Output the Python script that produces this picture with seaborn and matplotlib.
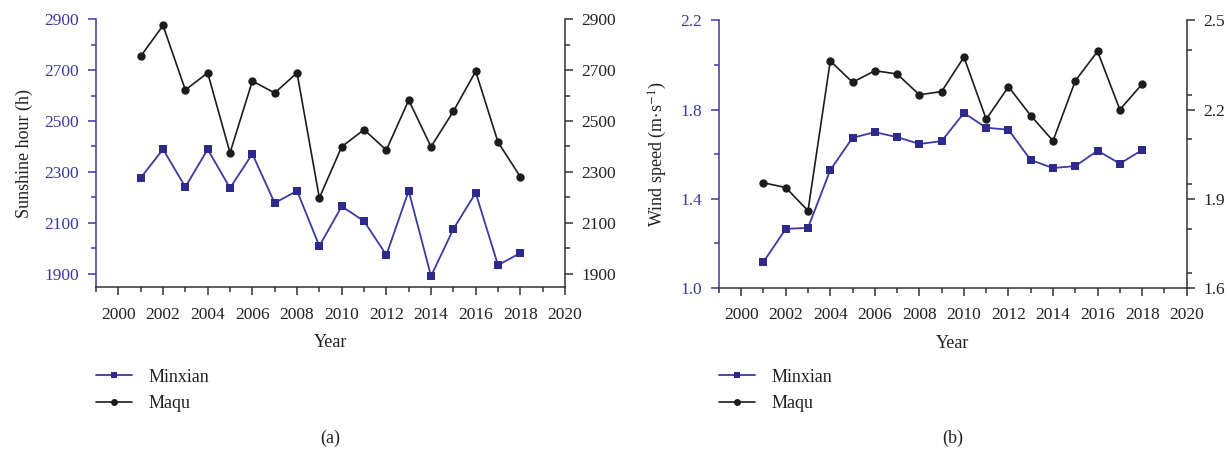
import matplotlib
matplotlib.use("Agg")
import matplotlib.pyplot as plt
from matplotlib.ticker import MultipleLocator, FixedLocator
from matplotlib.lines import Line2D
import numpy as np
import pandas as pd
import seaborn as sns

# ---- data ----
years = list(range(2001, 2019))

sunshine_minxian = [2277, 2389, 2241, 2389, 2237, 2371, 2178, 2226, 2009,
                    2165, 2107, 1974, 2226, 1891, 2076, 2218, 1934, 1982]
sunshine_maqu = [2754, 2875, 2622, 2689, 2375, 2657, 2610, 2689, 2198,
                 2399, 2466, 2386, 2582, 2399, 2538, 2695, 2417, 2281]

wind_minxian = [1.117, 1.265, 1.270, 1.529, 1.674, 1.699, 1.677, 1.646, 1.659,
                1.785, 1.719, 1.710, 1.574, 1.538, 1.547, 1.616, 1.558, 1.619]
wind_maqu = [1.954, 1.938, 1.860, 2.364, 2.292, 2.331, 2.320, 2.250, 2.261,
             2.377, 2.168, 2.277, 2.180, 2.095, 2.297, 2.396, 2.200, 2.286]

station_names = ["Minxian", "Maqu"]
panel_tags = ["(a)", "(b)"]
year_ticks = list(range(2000, 2021, 2))

# ---- style ----
sns.set_theme(style="ticks")
plt.rcParams["font.family"] = ["Liberation Serif", "DejaVu Serif"]
plt.rcParams["mathtext.fontset"] = "stix"

BLUE = "#3d399e"
BLUE_MK = "#2e2a8c"
BLACK = "#1c1c1c"
GREY = "#333333"

fig = plt.figure(figsize=(12.31, 4.55), dpi=100)

def draw_panel(rect, minx, maq, left_lim, left_major, left_minor,
               right_lim, right_major, right_minor, ylabel, fmt, tag, legend_x):
    ax = fig.add_axes(rect)
    ax2 = ax.twinx()
    df_a = pd.DataFrame({"Year": years, "value": minx})
    df_b = pd.DataFrame({"Year": years, "value": maq})
    sns.lineplot(data=df_a, x="Year", y="value", ax=ax, color=BLUE, lw=1.3,
                 marker="s", markersize=5.5, markeredgewidth=0,
                 markerfacecolor=BLUE_MK, legend=False)
    sns.lineplot(data=df_b, x="Year", y="value", ax=ax2, color=BLACK, lw=1.2,
                 marker="o", markersize=6, markeredgewidth=0,
                 markerfacecolor=BLACK, legend=False)

    for a in (ax, ax2):
        a.set_xlim(1999, 2020)
        a.spines["top"].set_visible(False)
    ax.set_ylim(*left_lim)
    ax2.set_ylim(*right_lim)

    ax.spines["right"].set_visible(False)
    ax.spines["left"].set_color(BLUE)
    ax.spines["bottom"].set_color(GREY)
    ax2.spines["left"].set_visible(False)
    ax2.spines["bottom"].set_visible(False)
    ax2.spines["right"].set_color(GREY)
    for sp in list(ax.spines.values()) + list(ax2.spines.values()):
        sp.set_linewidth(1.1)

    ax.xaxis.set_major_locator(FixedLocator(year_ticks))
    ax.xaxis.set_minor_locator(MultipleLocator(1))
    ax.set_xticklabels([str(y) for y in year_ticks])
    ax.yaxis.set_major_locator(FixedLocator(left_major))
    ax.yaxis.set_minor_locator(MultipleLocator(left_minor))
    ax2.yaxis.set_major_locator(FixedLocator(right_major))
    ax2.yaxis.set_minor_locator(MultipleLocator(right_minor))
    ax.set_yticklabels([fmt.format(v) for v in left_major])
    ax2.set_yticklabels([fmt.format(v) for v in right_major])

    ax.tick_params(axis="x", which="major", direction="out", length=6, width=1.1,
                   color=GREY, labelsize=12.5, labelcolor="#222222", pad=8)
    ax.tick_params(axis="x", which="minor", direction="out", length=3.5, width=1.1,
                   color=GREY)
    ax.tick_params(axis="y", which="major", direction="out", length=6, width=1.1,
                   color=BLUE, labelsize=12.5, labelcolor=BLUE, pad=6)
    ax.tick_params(axis="y", which="minor", direction="out", length=3.5, width=1.1,
                   color=BLUE)
    ax2.tick_params(axis="y", which="major", direction="out", length=6, width=1.1,
                    color=GREY, labelsize=12.5, labelcolor="#222222", pad=6)
    ax2.tick_params(axis="y", which="minor", direction="out", length=3.5, width=1.1,
                    color=GREY)

    ax.set_xlabel("Year", fontsize=13, color="#222222", labelpad=8)
    ax.set_ylabel(ylabel, fontsize=13, color="#222222", labelpad=8)
    ax2.set_ylabel("")

    handles = [
        Line2D([], [], color=BLUE, lw=1.3, marker="s", markersize=5,
               markerfacecolor=BLUE_MK, markeredgewidth=0),
        Line2D([], [], color=BLACK, lw=1.2, marker="o", markersize=5,
               markerfacecolor=BLACK, markeredgewidth=0),
    ]
    fig.legend(handles, station_names, loc="upper left",
               bbox_to_anchor=(legend_x, 0.19), frameon=False, fontsize=13,
               handlelength=2.0, handletextpad=0.9, labelspacing=0.55,
               borderaxespad=0, borderpad=0, labelcolor="#222222")
    cx = rect[0] + rect[2] / 2
    fig.text(cx, 0.037, tag, ha="center", va="center", fontsize=13, color="#222222")
    return ax, ax2

draw_panel([0.078, 0.369, 0.381, 0.589], sunshine_minxian, sunshine_maqu,
           (1848, 2900), [1900, 2100, 2300, 2500, 2700, 2900], 100,
           (1848, 2900), [1900, 2100, 2300, 2500, 2700, 2900], 100,
           "Sunshine hour (h)", "{:.0f}", panel_tags[0], 0.078)

draw_panel([0.584, 0.367, 0.380, 0.588], wind_minxian, wind_maqu,
           (1.0, 2.2), [1.0, 1.4, 1.8, 2.2], 0.2,
           (1.6, 2.5), [1.6, 1.9, 2.2, 2.5], 0.15,
           r"Wind speed (m$\cdot$s$^{-1}$)", "{:.1f}", panel_tags[1], 0.584)

fig.savefig("out.png", dpi=100)
